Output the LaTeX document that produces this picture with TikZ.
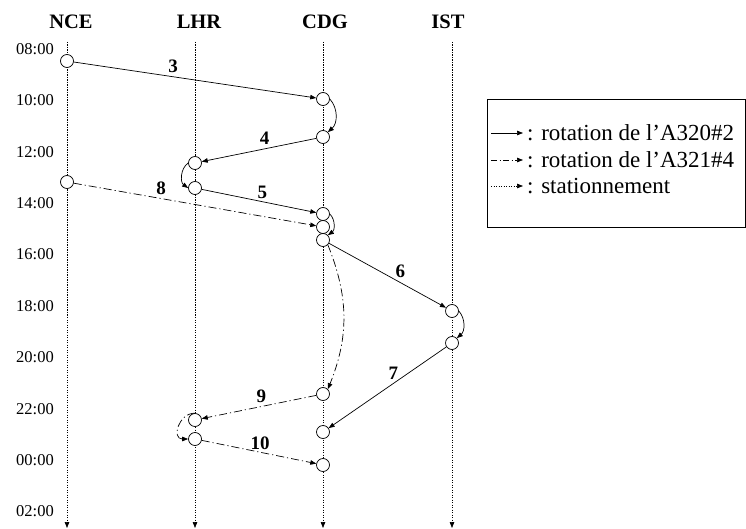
\documentclass[tikz,border=0pt]{standalone}
\usepackage{fontspec}
\setmainfont{Liberation Serif}
\usetikzlibrary{arrows.meta}
\begin{document}
\begin{tikzpicture}[x=1pt,y=-1pt,
  tip/.style={-{Triangle[length=6pt,width=4.5pt]}},
  ev/.style={circle,draw,fill=white,minimum size=13pt,inner sep=0pt,line width=0.7pt},
  rot/.style={tip,line width=0.7pt},
  rotb/.style={tip,line width=0.7pt,dash pattern=on 8pt off 3pt on 1.2pt off 3pt},
  park/.style={tip,line width=0.7pt,dash pattern=on 1.2pt off 1.3pt},
  hdr/.style={font=\fontsize{20.5}{24}\selectfont\bfseries,inner sep=0pt},
  tm/.style={font=\fontsize{16.5}{20}\selectfont,anchor=east,inner sep=0pt},
  lbl/.style={font=\fontsize{19}{22}\selectfont\bfseries,inner sep=0pt},
  leg/.style={font=\fontsize{23}{27}\selectfont,anchor=west,inner sep=0pt}
]
\useasboundingbox (0,0) rectangle (746,529);

% headers
\node[hdr] (hNCE) at (71,22) {NCE};
\node[hdr] (hLHR) at (199,22) {LHR};
\node[hdr] (hCDG) at (325,22) {CDG};
\node[hdr] (hIST) at (448,22) {IST};

% time labels
\node[tm] (t08) at (54,49) {08:00};
\node[tm] (t10) at (54,100.4) {10:00};
\node[tm] (t12) at (54,151.8) {12:00};
\node[tm] (t14) at (54,203.2) {14:00};
\node[tm] (t16) at (54,254.6) {16:00};
\node[tm] (t18) at (54,306) {18:00};
\node[tm] (t20) at (54,357.4) {20:00};
\node[tm] (t22) at (54,408.8) {22:00};
\node[tm] (t00) at (54,460.2) {00:00};
\node[tm] (t02) at (54,511.6) {02:00};

% column lines
\coordinate (nT) at (67,42);  \coordinate (nB) at (67,528);
\coordinate (lT) at (195,42); \coordinate (lB) at (195,528);
\coordinate (cT) at (323,42); \coordinate (cB) at (323,528);
\coordinate (iT) at (452,42); \coordinate (iB) at (452,528);
\draw[park] (nT) -- (nB);
\draw[park] (lT) -- (lB);
\draw[park] (cT) -- (cB);
\draw[park] (iT) -- (iB);

% events
\node[ev] (N1) at (67,61) {};
\node[ev] (C1) at (323,99) {};
\node[ev] (C2) at (323,137) {};
\node[ev] (L1) at (195,163) {};
\node[ev] (L2) at (195,188) {};
\node[ev] (N2) at (67,182) {};
\node[ev] (C3) at (323,214) {};
\node[ev] (C4) at (323,227) {};
\node[ev] (C5) at (323,240) {};
\node[ev] (I1) at (452,311) {};
\node[ev] (I2) at (452,343) {};
\node[ev] (C6) at (323,394) {};
\node[ev] (L3) at (195,420) {};
\node[ev] (L4) at (195,439) {};
\node[ev] (C7) at (323,432) {};
\node[ev] (C8) at (323,465) {};

% A320#2 rotation
\draw[rot] (N1) -- node[lbl,pos=0.41,yshift=10.5pt] {3} (C1);
\draw[rot] (C1.east) to[bend left=45] (C2.north east);
\draw[rot] (C2) -- node[lbl,pos=0.45,yshift=11pt] {4} (L1);
\draw[rot] (L1.west) to[bend right=55] (L2.west);
\draw[rot] (L2) -- node[lbl,pos=0.53,yshift=9pt] {5} (C3);
\draw[rot] (C3.east) to[bend left=50] (C5.north east);
\draw[rot] (C5) -- node[lbl,pos=0.61,yshift=11pt] {6} (I1);
\draw[rot] (I1.east) to[bend left=45] (I2.north east);
\draw[rot] (I2) -- node[lbl,pos=0.45,yshift=10pt] {7} (C7);

% A321#4 rotation
\draw[rotb] (N2) -- node[lbl,pos=0.36,yshift=10.5pt] {8} (C4);
\draw[rotb] (C5.south east) to[bend left=22] (C6.north east);
\draw[rotb] (C6) -- node[lbl,pos=0.48,yshift=10.5pt] {9} (L3);
\draw[rotb] (L3.north) to[out=180,in=180,looseness=1.6] (L4.west);
\draw[rotb] (L4) -- node[lbl,pos=0.51,yshift=9pt] {10} (C8);

% legend
\coordinate (bx1) at (487,99);
\coordinate (bx2) at (745.5,227);
\draw[line width=0.7pt] (bx1) rectangle (bx2);
\coordinate (la1) at (491,133); \coordinate (lb1) at (523,133);
\coordinate (la2) at (491,160); \coordinate (lb2) at (523,160);
\coordinate (la3) at (491,186); \coordinate (lb3) at (523,186);
\draw[rot] (la1) -- (lb1);
\draw[rotb,dash pattern=on 6pt off 2.5pt on 1.2pt off 2.5pt] (la2) -- (lb2);
\draw[park] (la3) -- (lb3);
\node[leg] (lt1) at (527,133) {: rotation de l'A320\#2};
\node[leg] (lt2) at (527,160) {: rotation de l'A321\#4};
\node[leg] (lt3) at (527,186) {: stationnement};
\end{tikzpicture}
\end{document}
